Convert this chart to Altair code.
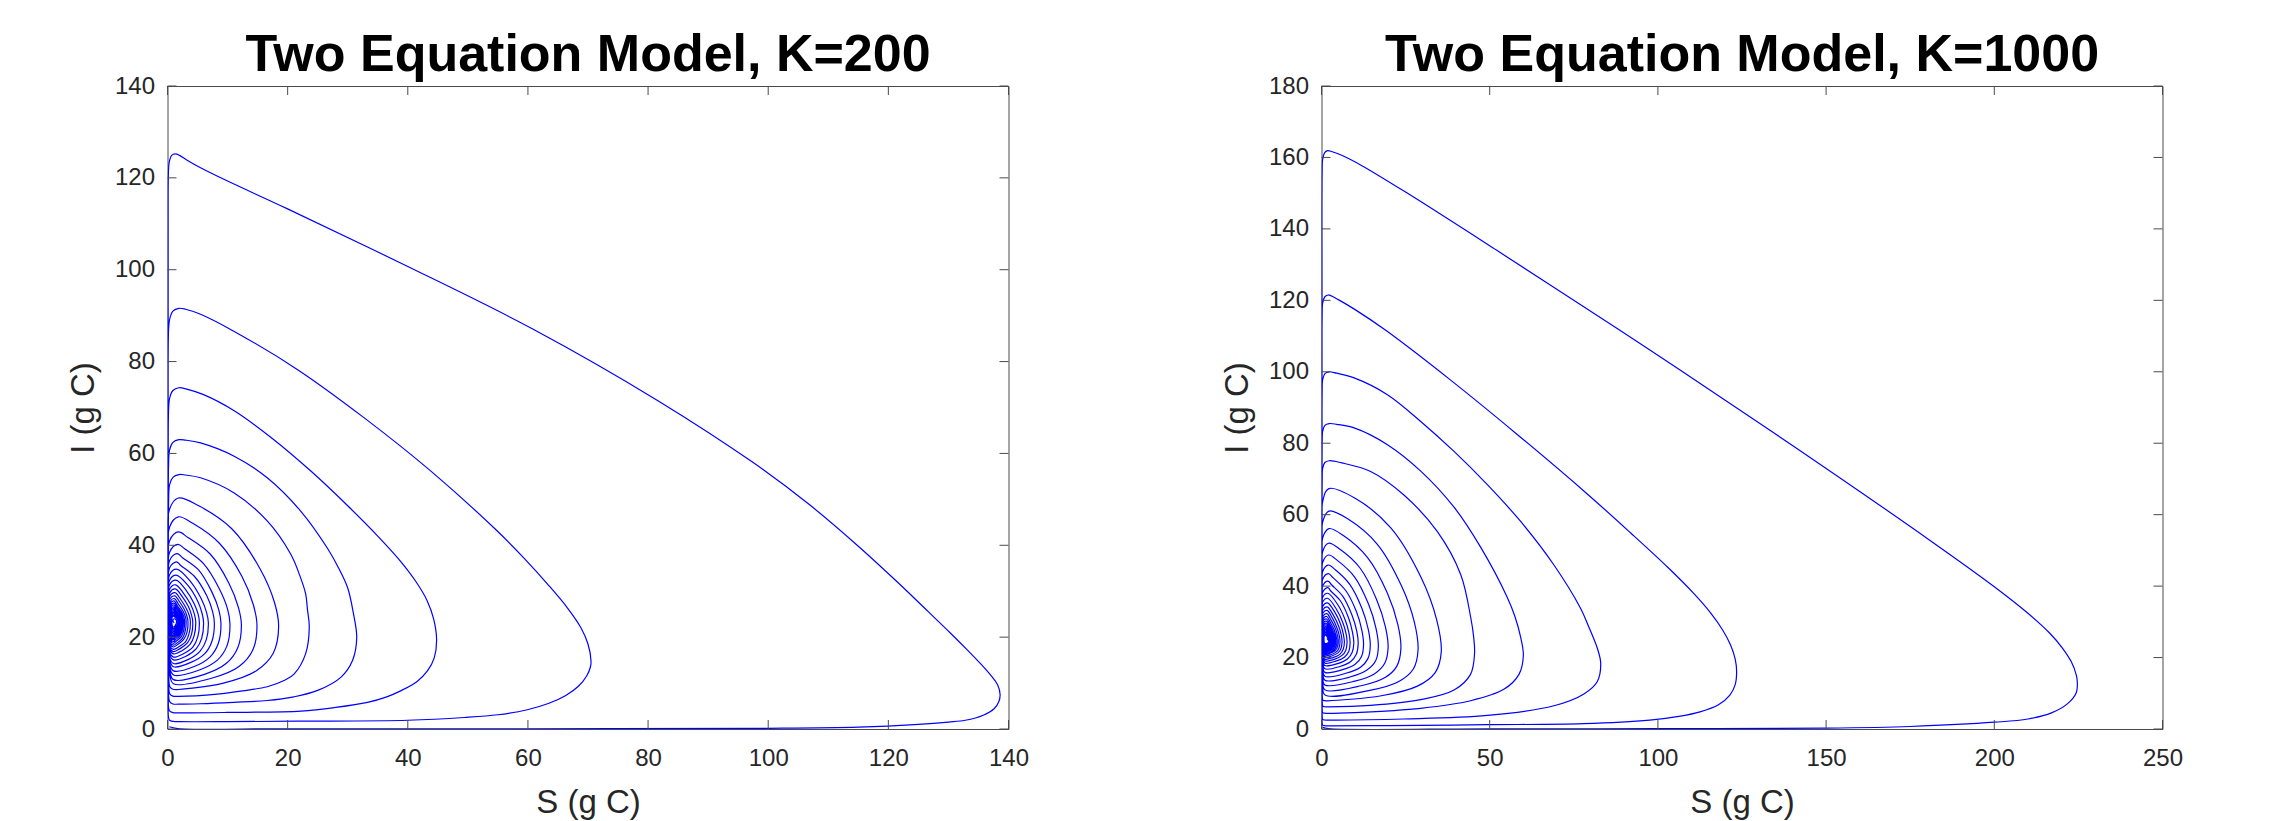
import altair as alt
import pandas as pd

# ---------------- data (S, I) in path order ----------------
K200_LOOPS = [
    [(0.3,0.5),(1.7,0.1),(20,0.05),(60,0.05),(100,0.15),(115,0.4),(125,1.0),(130,1.5),(132.8,1.9),(135.8,3.0),(137.6,4.4),(138.4,6.0),(138.6,7.5),
     (138.2,9.6),(137.1,11.6),(135.5,14.0),(133.3,17.0),(130.4,20.8),(126.6,25.6),(121.5,32.0),(115.0,39.8),(107.0,48.7),(97.5,58.0),(81.5,71.6),(60.8,87.1),(40.0,100.7),(19.9,113.3),(10.0,119.3),(5.5,122.2),(3.2,123.9),(2.0,124.9),(1.3,125.2),
     (0.7,124.9),(0.3,123.5),(0.12,120),(0.08,110),(0.08,50),(0.08,10),(0.12,3.0),(0.35,1.9),(1.0,1.65),(1.8,1.6)],
    [(10,1.6),(21.6,1.7),(40.0,1.9),(49.4,2.5),(55.0,3.1),(59.9,4.2),(63.5,5.6),(66.3,7.3),(68.4,9.3),(69.8,11.6),(70.4,13.5),(70.5,14.8),(70.0,18.5),(68.8,22.1),(66.5,26.5),(63.3,31.5),(59.5,37.0),(54.9,43.1),(43.8,56.2),(32.7,67.8),(21.6,78.3),(10.5,87.0),(5.5,90.3),(3.0,91.4),(1.9,91.6),
     (0.9,91.0),(0.35,89.2),(0.13,85),(0.1,60),(0.1,20),(0.12,6.0),(0.3,4.0),(0.9,3.55),(1.8,3.5)],
    [(10,3.6),(22.2,3.9),(28.0,4.7),(33.3,5.8),(36.5,7.0),(38.8,8.3),(41.5,10.3),(43.3,12.7),(44.4,15.5),(44.8,19.4),(44.3,24.0),(43.2,28.0),(41.4,32.0),(38.8,36.5),(35.0,42.0),(30.0,48.6),(24.0,56.0),(17.5,63.2),(11.1,69.3),(6.0,72.8),(3.2,74.0),(1.9,74.3),
     (0.9,73.7),(0.35,72.0),(0.15,68),(0.12,50),(0.12,20),(0.15,8.0),(0.35,6.0),(0.9,5.45),(1.8,5.4)],
    [(5.5,5.5),(11.0,5.8),(16.6,6.2),(21.0,7.0),(25.0,8.4),(28.9,11.3),(30.8,14.9),(31.5,19.9),(30.9,25.5),(30.0,30.7),(28.5,35.0),(26.6,39.4),(22.2,47.4),(16.6,54.7),(11.1,59.4),(5.5,62.3),(3.0,62.9),(1.9,63.0),
     (0.9,62.4),(0.35,60.8),(0.17,57),(0.14,40),(0.15,15),(0.2,9.2),(0.4,7.6),(0.9,7.15),(1.8,7.1)],
    [(8.3,7.6),(12.5,8.3),(16.6,9.2),(19.5,10.6),(21.1,12.0),(23.0,16.4),(23.6,22.2),(23.3,26.0),(23.0,29.4),(22.0,33.5),(20.5,38.1),(16.6,45.3),(11.1,51.4),(5.5,54.7),(3.0,55.3),(1.9,55.4),
     (0.9,54.8),(0.35,53.2),(0.18,49),(0.16,30),(0.2,12),(0.4,9.2),(0.9,8.65),(1.8,8.6)],
    [(9.3,10.0),(14.8,12.7),(17.6,16.5),(18.5,22.3),(17.8,27.6),(15.4,34.9),(10.7,43.6),(5.2,48.6),(1.8,50.3),(0.35,47.9),(0.2,30.0),(0.35,12.2),(1.0,9.85)],
    [(7.45,11.1),(11.9,13.6),(14.2,17.2),(14.9,22.5),(14.3,27.0),(12.4,33.2),(8.6,40.5),(4.2,44.8),(1.8,46.2),(0.35,44.0),(0.2,28.5),(0.35,12.9),(1.0,10.75)],
    [(6.15,11.9),(9.8,14.3),(11.7,17.7),(12.3,22.7),(11.8,26.5),(10.2,31.8),(7.1,38.1),(3.4,41.7),(1.8,42.9),(0.35,41.0),(0.2,27.3),(0.35,13.6),(1.0,11.75)],
    [(5.2,12.8),(8.3,15.0),(9.9,18.1),(10.4,22.8),(10.0,26.1),(8.6,30.6),(6.0,36.0),(2.9,39.2),(1.7,40.2),(0.35,38.5),(0.2,26.4),(0.35,14.3),(1.0,12.65)],
    [(4.45,13.6),(7.1,15.7),(8.45,18.6),(8.9,23.0),(8.55,25.9),(7.4,29.8),(5.2,34.6),(2.5,37.3),(1.6,38.2),(0.35,36.7),(0.2,25.9),(0.35,15.0),(1.0,13.55)],
    [(3.9,14.5),(6.2,16.4),(7.4,19.1),(7.8,23.1),(7.5,25.6),(6.5,29.1),(4.5,33.2),(2.2,35.6),(1.5,36.4),(0.35,35.1),(0.2,25.3),(0.35,15.5),(1.0,14.25)],
    [(3.4,15.1),(5.4,16.9),(6.45,19.4),(6.8,23.2),(6.5,25.4),(5.6,28.4),(3.9,32.0),(1.5,34.8),(0.35,33.6),(0.2,24.9),(0.35,16.2),(1.0,15.05)],
    [(3.0,15.8),(4.8,17.5),(5.7,19.8),(6.0,23.3),(5.75,25.2),(5.0,27.9),(3.5,31.1),(1.45,33.5),(0.35,32.4),(0.2,24.5),(0.35,16.7),(1.0,15.65)],
    [(2.65,16.4),(4.25,17.9),(5.05,20.1),(5.3,23.3),(5.1,25.0),(4.4,27.4),(3.1,30.2),(1.4,32.4),(0.35,31.4),(0.22,24.3),(0.35,17.3),(1.0,16.35)],
    [(2.35,17.0),(3.75,18.4),(4.45,20.4),(4.7,23.4),(4.5,24.9),(3.9,27.0),(2.7,29.5),(1.35,31.4),(0.37,30.5),(0.25,24.1),(0.37,17.7),(1.0,16.85)],
    [(2.1,17.5),(3.35,18.8),(4.0,20.6),(4.2,23.4),(4.0,24.8),(3.5,26.6),(2.45,28.8),(1.3,30.5),(0.4,29.7),(0.28,23.9),(0.4,18.1),(1.0,17.35)],
    [(1.9,17.9),(3.05,19.1),(3.6,20.8),(3.8,23.4),(3.65,24.6),(3.15,26.2),(2.2,28.2),(1.25,29.7),(0.42,29.0),(0.3,23.8),(0.42,18.5),(1.0,17.85)],
    [(1.7,18.4),(2.7,19.5),(3.25,21.1),(3.4,23.5),(3.25,24.5),(2.8,26.0),(2.0,27.7),(1.2,29.0),(0.45,28.4),(0.33,23.6),(0.45,18.8),(1.0,18.25)],
    [(1.55,18.7),(2.5,19.8),(2.95,21.3),(3.1,23.5),(2.98,24.4),(2.57,25.7),(1.8,27.2),(1.15,28.4),(0.48,27.8),(0.36,23.5),(0.48,19.2),(1.0,18.65)],
    [(1.45,19.1),(2.3,20.1),(2.7,21.4),(2.85,23.5),(2.75,24.3),(2.35,25.5),(1.65,26.8),(1.1,27.9),(0.5,27.4),(0.38,23.5),(0.5,19.5),(1.0,19.05)],
    [(1.35,19.45),(2.1,20.35),(2.5,21.6),(2.65,23.5),(2.55,24.2),(2.2,25.3),(1.55,26.5),(1.08,27.4),(0.52,27.0),(0.4,23.4),(0.52,19.8),(1.0,19.45)],
    [(1.3,19.8),(2.0,20.6),(2.38,21.8),(2.5,23.5),(2.4,24.2),(2.08,25.1),(1.5,26.2),(1.05,27.0),(0.55,26.6),(0.42,23.4),(0.55,20.1),(1.0,19.75)],
    [(1.25,20.1),(1.9,20.8),(2.23,21.9),(2.35,23.5),(2.26,24.1),(1.95,24.9),(1.4,25.9),(1.05,26.6),(0.58,26.3),(0.45,23.3),(0.58,20.4),(1.0,20.05)],
    [(1.25,20.35),(1.8,21.0),(2.1,22.0),(2.2,23.5),(2.12,24.0),(1.85,24.8),(1.35,25.6),(1.05,26.3),(0.6,26.0),(0.48,23.3),(0.6,20.6),(1.0,20.35)],
    [(1.25,20.6),(1.75,21.2),(2.0,22.1),(2.1,23.5),(2.02,24.0),(1.78,24.6),(1.35,25.4),(1.05,26.0),(0.62,25.7),(0.5,23.2),(0.62,20.9),(1.0,20.65)],
    [(1.25,20.9),(1.7,21.5),(1.95,22.3),(2.0,23.5),(1.93,23.9),(1.72,24.5),(1.3,25.1),(1.05,25.7),(0.65,25.4),(0.52,23.2),(0.65,21.2),(1.0,20.95)],
    [(1.25,21.2),(1.65,21.7),(1.88,22.5),(1.95,23.5),(1.88,23.9),(1.68,24.4),(1.3,24.9),(1.05,25.4),(0.68,25.1),(0.56,23.2),(0.68,21.5),(1.0,21.25)],
    [(1.25,21.5),(1.6,22.0),(1.82,22.7),(1.88,23.5),(1.8,23.9),(1.62,24.3),(1.28,24.7),(1.05,25.1),(0.72,24.9),(0.6,23.3),(0.72,21.8),(1.0,21.55)],
    [(1.25,21.8),(1.55,22.2),(1.75,22.8),(1.8,23.5),(1.72,23.85),(1.55,24.2),(1.25,24.5),(1.05,24.8),(0.76,24.6),(0.65,23.3),(0.76,22.1),(1.0,21.85)],
    [(1.25,22.1),(1.5,22.5),(1.68,23.0),(1.72,23.5),(1.65,23.8),(1.5,24.1),(1.25,24.35),(1.05,24.55),(0.8,24.4),(0.72,23.4),(0.82,22.4),(1.05,22.2)],
    [(1.3,22.6),(1.5,23.2),(1.4,23.8),(1.1,24.0),(0.9,23.6),(1.1,23.1)],
]

K1000_LOOPS = [
    [(0.3,0.5),(2.0,0.1),(50,0.05),(100,0.08),(149.8,0.25),(175,0.7),(200.2,1.9),(210,2.8),(217,4.5),(221.8,7.1),(224.3,10.0),(224.7,12.7),
     (224.4,15.0),(222.9,18.8),(220.3,22.6),(216.5,26.8),(210.0,32.4),(200.2,39.7),(180.9,52.8),(141.2,78.6),(106.7,100.4),(87.9,112.1),(52.1,134.0),(25.0,150.3),(12.0,157.7),(6.0,160.6),(3.2,161.6),(1.8,161.9),
     (0.9,161.3),(0.35,159.5),(0.13,155),(0.08,120),(0.08,40),(0.08,5),(0.12,2.0),(0.35,1.1),(0.9,0.92),(1.8,0.9)],
    [(20,0.95),(49.3,1.2),(77.8,1.5),(97.6,2.5),(106.7,3.6),(112.5,4.8),(118.0,6.8),(121.4,9.5),(123.0,12.5),(123.4,16.0),
     (123.0,19.5),(121.6,23.5),(119.2,27.8),(115.6,32.6),(110.5,38.1),(103.0,45.2),(92.0,54.8),(79.0,65.8),(58.0,82.6),(38.2,97.8),(19.1,111.6),(10.0,117.4),(5.0,120.2),(3.0,121.2),(2.1,121.5),
     (1.0,121.0),(0.35,119.3),(0.13,115),(0.09,80),(0.09,20),(0.12,4.5),(0.35,2.7),(0.9,2.52),(1.8,2.5)],
    [(24.5,2.8),(49.3,3.8),(69.1,6.5),(78.0,9.8),(82.0,13.3),(83.0,18.4),(82.0,22.6),(79.5,28.5),(77.0,33.8),(69.1,45.9),(59.2,58.1),(49.3,68.4),(39.4,77.7),(29.5,86.1),(19.6,93.6),(9.7,98.3),(4.5,99.6),(2.3,100.0),
     (1.0,99.5),(0.35,97.8),(0.14,94),(0.1,60),(0.1,15),(0.13,6.4),(0.35,4.6),(0.9,4.42),(1.8,4.4)],
    [(9.7,4.6),(29.5,5.8),(44.3,7.9),(54.2,11.1),(58.7,15.3),(60.0,20.6),(59.2,25.7),(57.5,31.5),(55.2,36.9),(47.3,50.9),(39.4,62.1),(29.5,72.2),(19.6,79.6),(9.7,84.3),(4.5,85.3),(2.3,85.5),
     (1.0,85.0),(0.35,83.4),(0.15,79.5),(0.12,50),(0.12,15),(0.15,8.2),(0.38,6.4),(0.9,6.22),(1.8,6.2)],
    [(14.6,6.6),(29.5,8.2),(39.4,10.9),(44.3,15.3),(45.5,21.2),(45.2,26.0),(44.4,31.0),(41.4,43.2),(34.4,55.3),(24.5,65.5),(14.6,72.1),(6.0,74.5),(2.3,75.1),
     (1.0,74.6),(0.35,73.0),(0.16,69),(0.13,40),(0.14,12),(0.18,9.8),(0.4,8.1),(0.9,7.92),(1.8,7.9)],
    [(17.8,9.3),(28.5,12.0),(33.8,15.8),(35.6,21.6),(34.2,30.7),(29.5,42.6),(20.6,56.3),(10.0,64.6),(2.2,67.3),(0.35,63.7),(0.2,38.4),(0.35,13.0),(1.0,9.55)],
    [(14.35,10.8),(23.0,13.3),(27.3,16.8),(28.7,22.1),(27.6,29.9),(23.8,40.0),(16.6,51.7),(8.0,58.7),(2.2,61.0),(0.35,58.0),(0.2,36.0),(0.35,13.9),(1.0,10.95)],
    [(11.8,12.1),(18.9,14.4),(22.4,17.6),(23.6,22.5),(22.7,29.2),(19.6,38.0),(13.7,48.0),(6.6,54.1),(2.2,56.1),(0.35,53.5),(0.2,34.2),(0.35,14.9),(1.0,12.35)],
    [(9.9,13.4),(15.8,15.5),(18.8,18.4),(19.8,22.8),(19.0,28.6),(16.4,36.2),(11.5,45.0),(5.5,50.3),(2.1,52.0),(0.35,49.7),(0.2,32.8),(0.35,15.9),(1.0,13.65)],
    [(8.45,14.55),(13.5,16.5),(16.1,19.1),(16.9,23.1),(16.2,28.2),(14.0,34.9),(9.8,42.6),(4.7,47.2),(2.1,48.7),(0.35,46.7),(0.2,31.7),(0.35,16.7),(1.0,14.75)],
    [(7.25,15.6),(11.6,17.3),(13.8,19.7),(14.5,23.4),(13.9,27.9),(12.0,33.8),(8.4,40.5),(4.1,44.6),(2.0,45.9),(0.35,44.1),(0.2,30.9),(0.35,17.6),(1.0,15.85)],
    [(6.25,16.6),(10.0,18.1),(11.9,20.3),(12.5,23.6),(12.0,27.6),(10.4,32.8),(7.25,38.7),(3.5,42.3),(2.0,43.5),(0.35,41.9),(0.2,30.2),(0.35,18.4),(1.0,16.85)],
    [(5.45,17.5),(8.7,18.9),(10.35,20.9),(10.9,23.8),(10.5,27.3),(9.05,31.9),(6.3,37.2),(3.05,40.3),(1.9,41.4),(0.35,40.0),(0.2,29.6),(0.35,19.1),(1.0,17.75)],
    [(4.8,18.3),(7.7,19.6),(9.1,21.4),(9.6,24.0),(9.2,27.1),(8.0,31.2),(5.6,35.9),(2.7,38.7),(1.9,39.6),(0.35,38.3),(0.2,29.0),(0.35,19.7),(1.0,18.45)],
    [(4.25,19.0),(6.8,20.1),(8.1,21.7),(8.5,24.1),(8.15,26.9),(7.05,30.5),(4.9,34.7),(1.85,38.0),(0.36,36.9),(0.22,28.5),(0.36,20.1),(1.0,19.05)],
    [(3.8,19.5),(6.1,20.6),(7.2,22.0),(7.6,24.2),(7.3,26.7),(6.3,29.9),(4.4,33.6),(1.8,36.6),(0.38,35.6),(0.24,28.0),(0.38,20.5),(1.0,19.55)],
    [(3.4,20.0),(5.45,20.9),(6.45,22.3),(6.8,24.3),(6.5,26.5),(5.65,29.4),(3.95,32.7),(1.75,35.3),(0.4,34.4),(0.26,27.6),(0.4,20.9),(1.0,20.05)],
    [(3.05,20.45),(4.9,21.3),(5.8,22.55),(6.1,24.4),(5.85,26.4),(5.05,28.9),(3.55,31.8),(1.7,34.2),(0.42,33.4),(0.28,27.3),(0.42,21.2),(1.0,20.45)],
    [(2.75,20.8),(4.4,21.6),(5.2,22.7),(5.5,24.4),(5.3,26.1),(4.55,28.4),(3.2,31.1),(1.65,33.2),(0.44,32.5),(0.3,27.0),(0.44,21.5),(1.0,20.85)],
    [(2.5,21.2),(4.0,21.9),(4.75,23.0),(5.0,24.5),(4.8,26.0),(4.15,28.1),(2.9,30.4),(1.6,32.3),(0.46,31.6),(0.32,26.7),(0.46,21.8),(1.0,21.15)],
    [(2.3,21.4),(3.7,22.1),(4.35,23.1),(4.6,24.5),(4.4,25.8),(3.8,27.7),(2.65,29.8),(1.55,31.5),(0.48,30.9),(0.34,26.5),(0.48,22.0),(1.0,21.45)],
    [(2.1,21.7),(3.35,22.3),(4.0,23.2),(4.2,24.5),(4.05,25.7),(3.5,27.4),(2.45,29.3),(1.5,30.8),(0.5,30.3),(0.36,26.3),(0.5,22.3),(1.05,21.75)],
    [(2.0,22.0),(3.1,22.55),(3.7,23.3),(3.9,24.5),(3.75,25.6),(3.25,27.1),(2.3,28.8),(1.45,30.2),(0.52,29.7),(0.38,26.1),(0.52,22.5),(1.05,22.05)],
    [(1.85,22.25),(2.9,22.75),(3.4,23.45),(3.6,24.5),(3.45,25.5),(3.0,26.8),(2.15,28.4),(1.42,29.6),(0.55,29.1),(0.4,25.9),(0.55,22.7),(1.05,22.25)],
    [(1.8,22.45),(2.7,22.9),(3.2,23.55),(3.35,24.5),(3.22,25.4),(2.8,26.6),(2.0,28.0),(1.4,29.1),(0.58,28.7),(0.43,25.75),(0.58,22.8),(1.05,22.45)],
    [(1.75,22.6),(2.55,23.05),(3.0,23.6),(3.15,24.5),(3.02,25.3),(2.65,26.3),(1.9,27.6),(1.38,28.6),(0.6,28.25),(0.46,25.6),(0.6,23.0),(1.05,22.65)],
    [(1.7,22.8),(2.45,23.2),(2.85,23.75),(3.0,24.5),(2.9,25.2),(2.55,26.1),(1.85,27.3),(1.36,28.2),(0.63,27.9),(0.5,25.5),(0.63,23.2),(1.05,22.85)],
    [(1.7,23.0),(2.35,23.35),(2.72,23.85),(2.85,24.5),(2.75,25.1),(2.45,25.9),(1.8,27.0),(1.35,27.8),(0.66,27.5),(0.54,25.4),(0.66,23.4),(1.05,23.05)],
    [(1.7,23.2),(2.25,23.5),(2.6,23.95),(2.72,24.5),(2.63,25.0),(2.35,25.7),(1.75,26.7),(1.34,27.4),(0.7,27.15),(0.58,25.3),(0.7,23.6),(1.05,23.25)],
    [(1.7,23.4),(2.2,23.65),(2.5,24.05),(2.6,24.5),(2.52,24.95),(2.28,25.5),(1.72,26.4),(1.33,27.0),(0.75,26.8),(0.62,25.2),(0.75,23.8),(1.1,23.45)],
    [(1.7,23.6),(2.12,23.8),(2.4,24.15),(2.5,24.5),(2.42,24.85),(2.2,25.3),(1.7,26.1),(1.32,26.6),(0.8,26.45),(0.68,25.1),(0.8,24.0),(1.15,23.7)],
    [(1.7,23.8),(2.05,23.95),(2.3,24.25),(2.4,24.5),(2.32,24.8),(2.12,25.15),(1.68,25.8),(1.32,26.25),(0.85,26.1),(0.75,25.0),(0.85,24.15),(1.2,23.9)],
    [(1.7,24.0),(2.1,24.3),(2.2,24.55),(2.0,24.9),(1.6,25.3)],
]

K200_XTICKS = [0, 20, 40, 60, 80, 100, 120, 140]
K200_YTICKS = [0, 20, 40, 60, 80, 100, 120, 140]
K1000_XTICKS = [0, 50, 100, 150, 200, 250]
K1000_YTICKS = [0, 20, 40, 60, 80, 100, 120, 140, 160, 180]

TITLES = ["Two Equation Model, K=200", "Two Equation Model, K=1000"]
X_TITLE = "S (g C)"
Y_TITLE = "I (g C)"

# ---------------- layout ----------------
W, H = 841, 643
TICK = 9
TXT = "#262626"
BOX = "#4a4a4a"
FONT = "Liberation Sans"


def panel(loops, title, xt, yt):
    rows = []
    for loop in loops:
        for s, i in loop:
            rows.append({"S": s, "I": i, "idx": len(rows)})
    df = pd.DataFrame(rows)
    xs = alt.Scale(domain=[xt[0], xt[-1]], nice=False, zero=False)
    ys = alt.Scale(domain=[yt[0], yt[-1]], nice=False, zero=False)
    xax = alt.Axis(values=xt, title=X_TITLE)
    yax = alt.Axis(values=yt, title=Y_TITLE)
    line = alt.Chart(df).mark_line(
        color="#0000ff", strokeWidth=1.2, interpolate="catmull-rom", clip=True
    ).encode(
        x=alt.X("S:Q", scale=xs, axis=xax),
        y=alt.Y("I:Q", scale=ys, axis=yax),
        order="idx:Q",
    )
    xdf = pd.DataFrame({"S": xt})
    ydf = pd.DataFrame({"I": yt})
    rule = dict(color=BOX, strokeWidth=1)
    bt = alt.Chart(xdf).mark_rule(**rule).encode(
        x=alt.X("S:Q", scale=xs, axis=xax), y=alt.value(H), y2=alt.value(H - TICK))
    tt = alt.Chart(xdf).mark_rule(**rule).encode(
        x=alt.X("S:Q", scale=xs, axis=xax), y=alt.value(0), y2=alt.value(TICK))
    lt = alt.Chart(ydf).mark_rule(**rule).encode(
        y=alt.Y("I:Q", scale=ys, axis=yax), x=alt.value(0), x2=alt.value(TICK))
    rt = alt.Chart(ydf).mark_rule(**rule).encode(
        y=alt.Y("I:Q", scale=ys, axis=yax), x=alt.value(W), x2=alt.value(W - TICK))
    tdf = pd.DataFrame({"t": [title]})
    ttl = alt.Chart(tdf).mark_text(
        font=FONT, fontSize=52, fontWeight="bold", color="black",
        align="center", baseline="alphabetic",
    ).encode(text="t:N", x=alt.value(W / 2), y=alt.value(-15))
    return alt.layer(line, bt, tt, lt, rt, ttl).properties(width=W, height=H)


left = panel(K200_LOOPS, TITLES[0], K200_XTICKS, K200_YTICKS)
right = panel(K1000_LOOPS, TITLES[1], K1000_XTICKS, K1000_YTICKS)

chart = alt.hconcat(left, right, spacing=191).properties(
    padding={"left": 66.5, "top": 28, "right": 0, "bottom": 0}
).configure_axis(
    ticks=False, domain=False, grid=False, tickSize=0,
    labelFont=FONT, labelFontSize=24, labelColor=TXT,
    titleFont=FONT, titleFontSize=33, titleFontWeight="normal", titleColor=TXT,
    labelOverlap=False, labelFlush=False,
).configure_axisX(labelPadding=17, titlePadding=16).configure_axisY(
    labelPadding=13, titlePadding=14
).configure_view(stroke=BOX, strokeWidth=1)

chart.save("out.html", embed_options={"renderer": "svg", "actions": False})
